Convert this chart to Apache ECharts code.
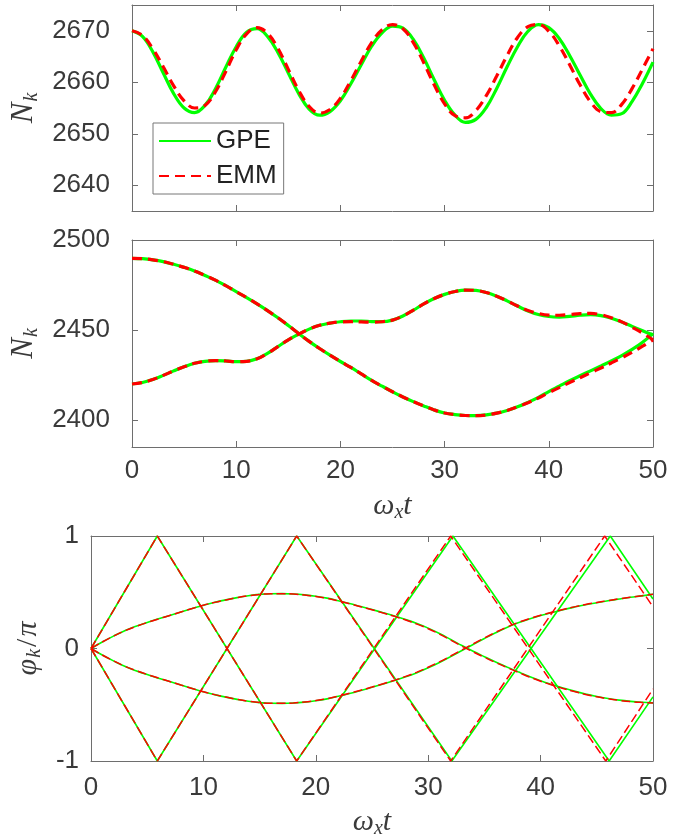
<!DOCTYPE html>
<html>
<head>
<meta charset="utf-8">
<script src="https://cdn.jsdelivr.net/npm/echarts@6/dist/echarts.min.js"></script>
<style>
html,body{margin:0;padding:0;background:#fff;}
#c{width:687px;height:834px;}
</style>
</head>
<body>
<div id="c"></div>
<script>
// ---------------- DATA ----------------
const T = [0,1,2,3,4,5,6,7,8,9,10,11,12,13,14,15,16,17,18,19,20,21,22,23,24,25,26,27,28,29,30,31,32,33,34,35,36,37,38,39,40,41,42,43,44,45,46,47,48,49,50];

// panel 1 : N_k (top mode)
const p1Gpe = [2670.0,2668.9,2665.9,2661.8,2657.8,2655.0,2654.1,2655.5,2658.7,2662.9,2666.9,2669.7,2670.4,2668.9,2665.8,2661.8,2657.8,2654.8,2653.6,2654.3,2656.4,2659.7,2663.4,2667.0,2669.6,2670.9,2670.5,2668.3,2664.7,2660.5,2656.5,2653.6,2652.2,2652.8,2655.1,2658.8,2663.0,2666.9,2669.9,2671.2,2670.6,2668.5,2665.2,2661.4,2657.7,2654.9,2653.6,2653.9,2656.3,2659.8,2663.9];
const p1Emm = [2670.0,2669.1,2666.5,2663.0,2659.3,2656.4,2655.0,2655.5,2658.1,2662.1,2666.3,2669.4,2670.6,2669.5,2666.6,2662.5,2658.4,2655.3,2654.0,2654.7,2656.9,2660.3,2664.1,2667.7,2670.2,2671.2,2670.4,2667.7,2663.8,2659.5,2655.8,2653.5,2653.1,2654.5,2657.4,2661.2,2665.2,2668.7,2670.8,2671.2,2669.9,2667.1,2663.4,2659.5,2656.2,2654.3,2654.1,2655.7,2658.8,2662.6,2666.5];

// panel 2 : N_k (two modes)
const p2GpeA = [2489.8,2489.6,2489.0,2488.0,2486.5,2484.8,2482.8,2480.3,2477.7,2474.6,2471.3,2468.0,2464.5,2460.8,2456.8,2452.5,2448.0,2443.7,2439.7,2436.0,2432.5,2429.2,2425.6,2422.0,2418.8,2415.7,2412.8,2410.2,2407.8,2405.6,2403.9,2403.0,2402.5,2402.4,2402.8,2403.8,2405.3,2407.3,2409.8,2412.6,2415.8,2418.8,2421.8,2424.6,2427.3,2430.0,2432.8,2435.8,2439.2,2443.2,2448.0];
const p2EmmA = [2489.8,2489.6,2489.0,2488.0,2486.5,2484.8,2482.8,2480.3,2477.7,2474.6,2471.3,2468.0,2464.5,2460.8,2456.8,2452.5,2448.0,2443.7,2439.7,2436.0,2432.5,2429.2,2425.6,2422.0,2418.8,2415.7,2412.8,2410.2,2407.8,2405.6,2403.9,2403.0,2402.5,2402.4,2402.8,2403.8,2405.3,2407.3,2409.6,2412.2,2415.2,2418.0,2420.8,2423.5,2426.2,2428.9,2431.7,2434.6,2437.6,2441.0,2444.5];
const p2GpeB = [2420.0,2420.8,2422.5,2424.8,2427.3,2429.6,2431.5,2432.6,2433.0,2432.8,2432.4,2432.6,2434.0,2437.0,2440.8,2444.5,2447.7,2450.5,2452.6,2453.8,2454.6,2455.0,2455.0,2454.7,2454.6,2455.5,2457.8,2461.0,2464.5,2467.5,2469.8,2471.4,2472.2,2472.0,2470.8,2468.8,2466.2,2463.3,2460.6,2458.6,2457.5,2457.2,2457.6,2458.2,2458.5,2458.0,2456.5,2454.5,2452.0,2449.6,2447.3];
const p2EmmB = [2420.0,2420.8,2422.5,2424.8,2427.3,2429.6,2431.5,2432.6,2433.0,2432.8,2432.4,2432.6,2434.0,2437.0,2440.8,2444.5,2447.7,2450.5,2452.6,2453.8,2454.5,2454.6,2454.5,2454.3,2454.6,2455.5,2457.8,2461.0,2464.5,2467.5,2469.8,2471.4,2472.2,2472.0,2470.8,2468.8,2466.2,2463.3,2460.8,2459.2,2458.3,2458.2,2458.6,2459.1,2459.2,2458.5,2456.8,2454.5,2451.5,2448.3,2444.5];

// panel 3 : phases (smooth branches)
const p3GpeUp   = [0,0.058,0.11,0.158,0.197,0.232,0.264,0.294,0.325,0.355,0.385,0.41,0.432,0.452,0.469,0.481,0.487,0.488,0.485,0.477,0.465,0.448,0.425,0.4,0.373,0.346,0.318,0.289,0.257,0.222,0.181,0.133,0.08,0.026,-0.025,-0.073,-0.12,-0.164,-0.207,-0.249,-0.287,-0.32,-0.351,-0.379,-0.404,-0.426,-0.444,-0.459,-0.47,-0.478,-0.483];
const p3GpeDown = [0,-0.058,-0.11,-0.158,-0.197,-0.232,-0.264,-0.294,-0.325,-0.355,-0.385,-0.41,-0.432,-0.452,-0.469,-0.481,-0.487,-0.488,-0.485,-0.477,-0.465,-0.448,-0.425,-0.4,-0.373,-0.345,-0.316,-0.285,-0.252,-0.215,-0.172,-0.124,-0.072,-0.018,0.036,0.089,0.14,0.187,0.228,0.263,0.293,0.32,0.345,0.368,0.389,0.407,0.424,0.44,0.455,0.468,0.482];
const p3EmmUp   = [0,0.058,0.11,0.157,0.196,0.231,0.263,0.294,0.325,0.355,0.385,0.41,0.432,0.452,0.469,0.481,0.486,0.487,0.484,0.476,0.463,0.446,0.423,0.398,0.371,0.344,0.315,0.286,0.253,0.217,0.176,0.128,0.075,0.021,-0.03,-0.078,-0.125,-0.169,-0.211,-0.253,-0.291,-0.324,-0.355,-0.383,-0.408,-0.429,-0.447,-0.461,-0.472,-0.479,-0.484];
const p3EmmDown = [0,-0.058,-0.11,-0.157,-0.196,-0.231,-0.263,-0.294,-0.325,-0.355,-0.385,-0.41,-0.432,-0.452,-0.469,-0.481,-0.486,-0.487,-0.484,-0.476,-0.463,-0.446,-0.423,-0.398,-0.371,-0.343,-0.313,-0.282,-0.248,-0.21,-0.167,-0.119,-0.067,-0.013,0.041,0.094,0.144,0.19,0.231,0.265,0.295,0.322,0.347,0.37,0.391,0.409,0.426,0.442,0.456,0.469,0.482];

// panel 3 : phases (zig-zag branches, vertices)
const zGpeAT = [0, 5.9, 18.3, 32.2, 46.1, 50];
const zGpeAV = [0, 1, -1, 1, -1, -0.43];
const zGpeBT = [0, 5.9, 18.3, 32.1, 46.2, 50];
const zGpeBV = [0, -1, 1, -1, 1, 0.44];
const zEmmAT = [0, 5.9, 18.3, 32.0, 45.8, 50];
const zEmmAV = [0, 1, -1, 1, -1, -0.36];
const zEmmBT = [0, 5.9, 18.3, 32.0, 45.7, 50];
const zEmmBV = [0, -1, 1, -1, 1, 0.37];

// ---------------- CHART ----------------
const pairs = (t, v) => t.map((x, i) => [x, v[i]]);
const GREEN = '#00ff00', RED = '#ff0000';
const FRAME = '#6e6e6e', LABEL = '#3a3a3a';
const SANS = '"Liberation Sans", Arial, Helvetica, sans-serif';
const SERIF = '"Liberation Serif", "DejaVu Serif", serif';

function xAx(grid, pos, showLabel, margin) {
  return {
    type: 'value', gridIndex: grid, position: pos, min: 0, max: 50, interval: 10,
    axisLine: { show: true, onZero: false, lineStyle: { color: FRAME, width: 1 } },
    axisTick: { show: true, inside: true, length: 6, lineStyle: { color: FRAME } },
    axisLabel: { show: showLabel, fontSize: 26, color: LABEL, fontFamily: SANS, margin: margin || 12 },
    splitLine: { show: false }
  };
}
function yAx(grid, pos, min, max, split, step, showLabel, margin) {
  return {
    type: 'value', gridIndex: grid, position: pos, min: min, max: max, splitNumber: split,
    axisLine: { show: true, onZero: false, lineStyle: { color: FRAME, width: 1 } },
    axisTick: { show: true, inside: true, length: 6, lineStyle: { color: FRAME } },
    axisLabel: { show: showLabel, fontSize: 26, color: LABEL, fontFamily: SANS, margin: margin,
      formatter: v => (Math.abs(v / step - Math.round(v / step)) < 1e-6 ? String(v) : '') },
    splitLine: { show: false }
  };
}

const richN = {
  n: { fontFamily: SERIF, fontStyle: 'italic', fontSize: 31, color: LABEL },
  k: { fontFamily: SERIF, fontStyle: 'italic', fontSize: 20, color: LABEL, padding: [14, 0, 0, 1] }
};
const richW = {
  w: { fontFamily: SERIF, fontStyle: 'italic', fontSize: 30, color: LABEL },
  x: { fontFamily: SERIF, fontStyle: 'italic', fontSize: 20, color: LABEL, padding: [14, 0, 0, 0] },
  t: { fontFamily: SERIF, fontStyle: 'italic', fontSize: 30, color: LABEL }
};
const richP = {
  p: { fontFamily: SERIF, fontStyle: 'italic', fontSize: 30, color: LABEL },
  k: { fontFamily: SERIF, fontStyle: 'italic', fontSize: 20, color: LABEL, padding: [14, 2, 0, 1] },
  s: { fontFamily: SERIF, fontSize: 30, color: LABEL, padding: [0, 2, 0, 0] },
  q: { fontFamily: SERIF, fontStyle: 'italic', fontSize: 30, color: LABEL }
};

const xAxes = [
  xAx(0, 'bottom', false), xAx(0, 'top', false),
  Object.assign(xAx(1, 'bottom', true, 11), { name: '{w|ω}{x|x}{t|t}', nameLocation: 'middle', nameGap: 42, nameTextStyle: { rich: richW } }),
  xAx(1, 'top', false),
  Object.assign(xAx(2, 'bottom', true, 14), { name: '{w|ω}{x|x}{t|t}', nameLocation: 'middle', nameGap: 44, nameTextStyle: { rich: richW } }),
  xAx(2, 'top', false)
];
const yAxes = [
  Object.assign(yAx(0, 'left', 2635, 2675, 4, 10, true, 22), { name: '{n|N}{k|k}', nameLocation: 'middle', nameRotate: 90, nameGap: 88, nameTextStyle: { rich: richN } }),
  yAx(0, 'right', 2635, 2675, 4, 10, false, 8),
  Object.assign(yAx(1, 'left', 2385, 2500, 2, 50, true, 22), { name: '{n|N}{k|k}', nameLocation: 'middle', nameRotate: 90, nameGap: 88, nameTextStyle: { rich: richN } }),
  yAx(1, 'right', 2385, 2500, 2, 50, false, 8),
  Object.assign(yAx(2, 'left', -1, 1, 2, 1, true, 12), { interval: 1, name: '{p|φ}{k|k}{s|/}{q|π}', nameLocation: 'middle', nameRotate: 90, nameGap: 40, nameTextStyle: { rich: richP } }),
  Object.assign(yAx(2, 'right', -1, 1, 2, 1, false, 8), { interval: 1 })
];

function line(name, xi, yi, data, color, width, dash, smooth) {
  return {
    name: name, type: 'line', xAxisIndex: xi, yAxisIndex: yi, data: data,
    symbol: 'none', showSymbol: false, smooth: smooth || false,
    lineStyle: { color: color, width: width, type: dash || 'solid', cap: 'butt' },
    itemStyle: { color: color },
    clip: true, animation: false
  };
}
const sline = (n, xi, yi, d, c, w, dash) => line(n, xi, yi, d, c, w, dash, 0.4);

const series = [
  sline('GPE', 0, 0, pairs(T, p1Gpe), GREEN, 3.2),
  sline('EMM', 0, 0, pairs(T, p1Emm), RED, 3.2, [10, 6]),
  sline('GPE A', 2, 2, pairs(T, p2GpeA), GREEN, 3.2),
  sline('GPE B', 2, 2, pairs(T, p2GpeB), GREEN, 3.2),
  sline('EMM A', 2, 2, pairs(T, p2EmmA), RED, 3.2, [10, 6]),
  sline('EMM B', 2, 2, pairs(T, p2EmmB), RED, 3.2, [10, 6]),
  sline('GPE up', 4, 4, pairs(T, p3GpeUp), GREEN, 1.6),
  sline('GPE down', 4, 4, pairs(T, p3GpeDown), GREEN, 1.6),
  line('GPE zA', 4, 4, pairs(zGpeAT, zGpeAV), GREEN, 1.6),
  line('GPE zB', 4, 4, pairs(zGpeBT, zGpeBV), GREEN, 1.6),
  sline('EMM up', 4, 4, pairs(T, p3EmmUp), RED, 1.5, [9, 4]),
  sline('EMM down', 4, 4, pairs(T, p3EmmDown), RED, 1.5, [9, 4]),
  line('EMM zA', 4, 4, pairs(zEmmAT, zEmmAV), RED, 1.5, [9, 4]),
  line('EMM zB', 4, 4, pairs(zEmmBT, zEmmBV), RED, 1.5, [9, 4])
];

const chart = echarts.init(document.getElementById('c'), null, { renderer: 'canvas' });
chart.setOption({
  backgroundColor: '#ffffff',
  animation: false,
  grid: [
    { left: 132, top: 5, width: 521, height: 206, outerBoundsMode: 'none', containLabel: false },
    { left: 132, top: 240, width: 521, height: 207, outerBoundsMode: 'none', containLabel: false },
    { left: 91, top: 536, width: 562, height: 225, outerBoundsMode: 'none', containLabel: false }
  ],
  xAxis: xAxes,
  yAxis: yAxes,
  legend: {
    data: ['GPE', 'EMM'], orient: 'vertical', left: 153, top: 123,
    itemWidth: 52, itemHeight: 16, itemGap: 9, padding: [5, 7, 5, 5],
    borderColor: '#777', borderWidth: 1, backgroundColor: '#fff',
    itemStyle: { opacity: 0 },
    textStyle: { fontSize: 26, color: '#222', fontFamily: SANS },
    selectedMode: false
  },
  series: series
});
</script>
</body>
</html>
